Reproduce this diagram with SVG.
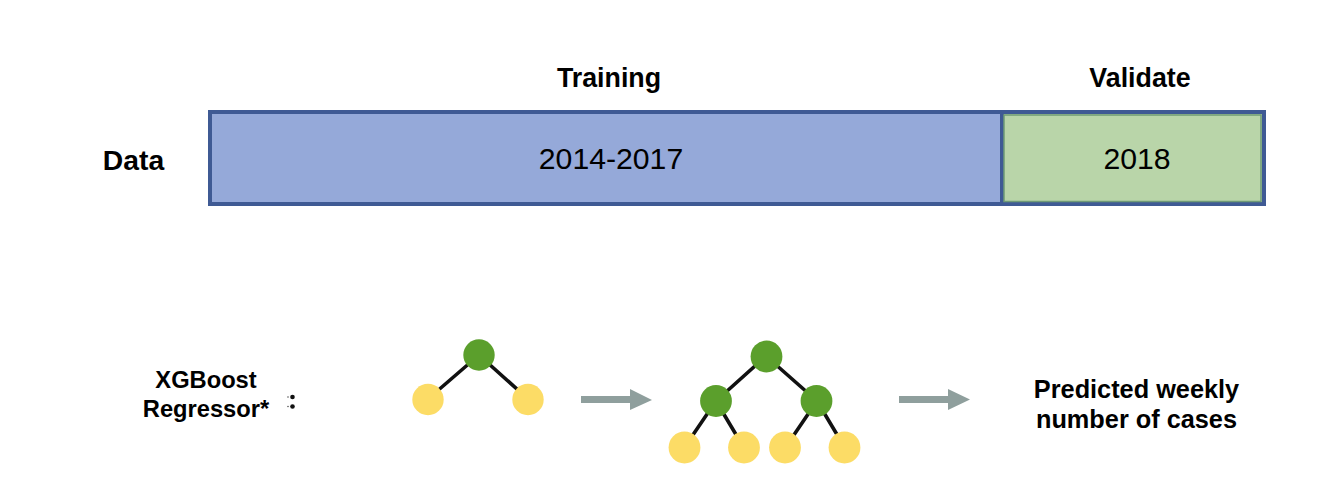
<svg xmlns="http://www.w3.org/2000/svg" width="1336" height="502" viewBox="0 0 1336 502">
<style>
text{font-family:"Liberation Sans",Arial,sans-serif;fill:#000}
.b{font-weight:700}
.h{font-size:26.800px}
.d{font-size:28.300px}
.r{font-size:23.700px}
.p{font-size:25.300px}
.m{font-size:30.200px}
.g{fill:#5b9f2c}
.y{fill:#fcdc66}
.e{stroke:#111;stroke-width:3.600;fill:none}
.a{fill:#8f9f9d}
</style>
<rect width="1336" height="502" fill="#fff"/>
<g id="connectors">
<path class="e" d="M479 355L428 399M479 355L528 399"/>
<path class="e" d="M766 356L716 401M766 356L817 401M716 401L684 448M716 401L744 448M817 401L785 448M817 401L845 448"/>
<path id="arrow1" class="a" d="M581 396H630V389L652 400L630 410V403H581Z"/>
<path id="arrow2" class="a" d="M899 396H948V389L970 399.500L948 410V403H899Z"/>
</g>
<g id="data-label"><text class="b d" x="133.500" y="170" text-anchor="middle">Data</text></g>
<g id="training-label"><text class="b h" x="609" y="87" text-anchor="middle">Training</text></g>
<g id="validate-label"><text class="b h" x="1140" y="87" text-anchor="middle">Validate</text></g>
<g id="training-bar">
<rect x="210" y="112" width="792" height="92" fill="#95a9d9" stroke="#3f5a94" stroke-width="4"/>
<text class="m" x="611" y="169" text-anchor="middle">2014-2017</text>
</g>
<g id="validate-bar">
<rect x="1002" y="112" width="262" height="92" fill="#b9d5a9" stroke="#3f5a94" stroke-width="4"/>
<rect x="1004" y="115" width="257" height="86.500" fill="none" stroke="#6f9a76" stroke-width="1.500"/>
<text class="m" x="1137" y="169" text-anchor="middle">2018</text>
</g>
<g id="regressor-label">
<text class="b r" x="206" y="388" text-anchor="middle">XGBoost</text>
<text class="b r" x="206" y="417" text-anchor="middle">Regressor*</text>
<circle cx="288" cy="397" r="0.800" fill="#555"/><circle cx="288" cy="406.500" r="0.800" fill="#555"/>
<circle cx="292.500" cy="397" r="2.300" fill="#111"/><circle cx="292.500" cy="406.500" r="2.300" fill="#111"/>
</g>
<g id="tree-small">
<circle class="g" cx="479" cy="355" r="15.700"/>
<circle class="y" cx="428" cy="399.500" r="15.700"/>
<circle class="y" cx="528" cy="399.500" r="15.700"/>
</g>
<g id="tree-large">
<circle class="g" cx="766.500" cy="356.500" r="15.900"/>
<circle class="g" cx="716" cy="401" r="15.900"/>
<circle class="g" cx="816.500" cy="401" r="15.900"/>
<circle class="y" cx="684.500" cy="447.500" r="15.900"/>
<circle class="y" cx="744" cy="447.500" r="15.900"/>
<circle class="y" cx="785" cy="447.500" r="15.900"/>
<circle class="y" cx="844.500" cy="447.500" r="15.900"/>
</g>
<g id="output-label">
<text class="b p" x="1136.500" y="398" text-anchor="middle">Predicted weekly</text>
<text class="b p" x="1136.500" y="428" text-anchor="middle">number of cases</text>
</g>
</svg>
